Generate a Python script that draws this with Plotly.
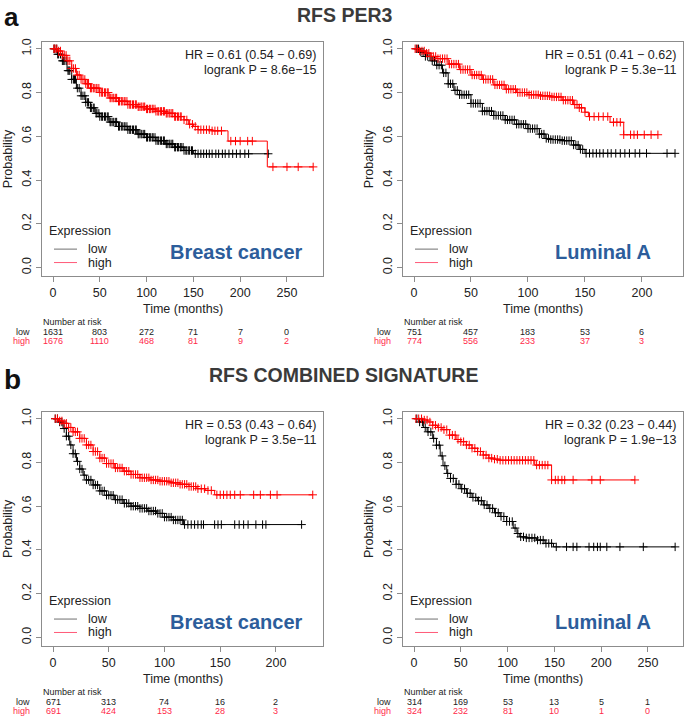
import numpy as np
import plotly.graph_objects as go

W, H = 685, 717

# ---------------- data ----------------
# Panel a-left: RFS PER3, Breast cancer
TL_low_t = [0, 5, 10, 15, 20, 25, 30, 35, 40, 45, 50, 60, 70, 80, 90, 100, 110, 120, 130, 140, 150, 231]
TL_low_s = [1.0, 0.975, 0.945, 0.9, 0.86, 0.82, 0.785, 0.755, 0.73, 0.705, 0.69, 0.665, 0.645, 0.63, 0.61, 0.595, 0.58, 0.565, 0.55, 0.535, 0.52, 0.52]
TL_high_t = [0, 5, 10, 15, 20, 25, 30, 35, 40, 50, 60, 70, 80, 90, 100, 110, 120, 130, 140, 145, 150, 155, 170, 187, 229, 278]
TL_high_s = [1.0, 0.99, 0.97, 0.945, 0.91, 0.88, 0.86, 0.84, 0.82, 0.80, 0.775, 0.76, 0.745, 0.735, 0.725, 0.714, 0.705, 0.69, 0.675, 0.655, 0.645, 0.63, 0.625, 0.578, 0.46, 0.46]
TL_low_c = [1, 2, 4, 5, 6, 8, 10, 11, 12, 14, 16, 17, 18, 20, 22, 23, 24, 26, 28, 30, 32, 34, 35, 37, 38, 40, 41, 43, 44, 46, 47, 49, 50, 52, 53, 55, 56, 58, 59, 61, 62, 64, 65, 67, 68, 70, 71, 73, 74, 76, 77, 79, 80, 82, 83, 85, 86, 88, 89, 91, 92, 94, 95, 97, 98, 100, 101, 103, 104, 106, 107, 109, 110, 112, 113, 115, 116, 118, 119, 121, 122, 124, 125, 127, 128, 130, 131, 133, 134, 136, 137, 139, 140, 142, 143, 145, 146, 148, 149, 152, 155, 158, 161, 164, 167, 170, 174, 177, 181, 184, 188, 192, 196, 200, 205, 209, 230]
TL_high_c = [1, 2, 4, 6, 8, 10, 12, 14, 16, 18, 20, 22, 24, 26, 28, 30, 32, 34, 35, 37, 38, 40, 41, 43, 44, 46, 47, 49, 50, 52, 53, 55, 56, 58, 59, 61, 62, 64, 65, 67, 68, 70, 71, 73, 74, 76, 77, 79, 80, 82, 83, 85, 86, 88, 89, 91, 92, 94, 95, 97, 98, 100, 101, 103, 104, 106, 107, 109, 110, 112, 113, 115, 116, 118, 119, 121, 122, 124, 125, 127, 128, 130, 131, 133, 134, 136, 137, 140, 143, 146, 149, 152, 155, 158, 161, 164, 167, 170, 173, 176, 180, 190, 195, 200, 208, 213, 235, 250, 262, 278]

# Panel a-right: RFS PER3, Luminal A
TR_low_t = [0, 5, 10, 15, 20, 25, 30, 35, 40, 50, 60, 70, 80, 90, 100, 110, 115, 120, 130, 140, 145, 150, 229]
TR_low_s = [1.0, 0.985, 0.965, 0.945, 0.925, 0.89, 0.84, 0.81, 0.79, 0.75, 0.715, 0.695, 0.675, 0.655, 0.635, 0.61, 0.59, 0.585, 0.58, 0.56, 0.54, 0.522, 0.522]
TR_high_t = [0, 5, 10, 15, 20, 30, 40, 50, 60, 70, 80, 90, 100, 110, 120, 130, 140, 145, 150, 153, 172, 184, 214]
TR_high_s = [1.0, 0.99, 0.98, 0.965, 0.955, 0.93, 0.905, 0.88, 0.86, 0.835, 0.815, 0.80, 0.79, 0.785, 0.78, 0.765, 0.745, 0.73, 0.71, 0.69, 0.664, 0.607, 0.607]
TR_low_c = [2, 4, 6, 8, 10, 12, 14, 16, 18, 20, 22, 24, 26, 28, 30, 32, 34, 36, 38, 40, 42, 44, 46, 48, 50, 52, 54, 56, 58, 60, 62, 64, 66, 68, 70, 72, 74, 76, 78, 80, 82, 84, 86, 88, 90, 92, 94, 96, 98, 100, 102, 104, 106, 108, 110, 112, 114, 116, 118, 120, 122, 124, 126, 128, 130, 132, 134, 136, 138, 140, 142, 144, 146, 148, 151, 154, 157, 160, 163, 166, 170, 173, 177, 181, 185, 189, 194, 198, 204, 222, 229]
TR_high_c = [1, 3, 5, 7, 9, 11, 13, 15, 17, 19, 21, 23, 25, 27, 29, 31, 33, 35, 37, 39, 41, 43, 45, 47, 49, 51, 53, 55, 57, 59, 61, 63, 65, 67, 69, 71, 73, 75, 77, 79, 81, 83, 85, 87, 89, 91, 93, 95, 97, 99, 101, 103, 105, 107, 109, 111, 113, 115, 117, 119, 121, 123, 125, 127, 129, 131, 133, 135, 137, 139, 141, 143, 145, 147, 150, 154, 158, 162, 166, 170, 175, 178, 181, 184, 190, 193, 196, 202, 208, 214]

# Panel b-left: RFS combined signature, Breast cancer
BL_low_t = [0, 5, 9, 12, 15, 18, 21, 24, 27, 30, 36, 42, 48, 55, 63, 70, 78, 85, 93, 100, 108, 117, 223]
BL_low_s = [1.0, 0.985, 0.955, 0.92, 0.88, 0.84, 0.805, 0.77, 0.742, 0.72, 0.697, 0.67, 0.65, 0.63, 0.613, 0.60, 0.59, 0.578, 0.567, 0.55, 0.537, 0.516, 0.516]
BL_high_t = [0, 5, 9, 14, 18, 24, 30, 36, 42, 48, 55, 63, 70, 78, 87, 96, 105, 114, 122, 129, 137, 145, 233]
BL_high_s = [1.0, 0.99, 0.979, 0.96, 0.94, 0.91, 0.88, 0.85, 0.82, 0.795, 0.775, 0.76, 0.745, 0.73, 0.72, 0.714, 0.707, 0.70, 0.69, 0.68, 0.672, 0.652, 0.652]
BL_low_c = [2, 4, 6, 8, 10, 12, 14, 16, 18, 20, 22, 24, 26, 28, 30, 32, 34, 36, 38, 40, 42, 44, 46, 48, 50, 52, 54, 56, 58, 60, 62, 64, 66, 68, 70, 72, 74, 76, 78, 80, 82, 84, 86, 88, 90, 92, 94, 96, 98, 100, 102, 104, 106, 108, 110, 112, 114, 116, 118, 121, 124, 127, 130, 133, 135, 145, 148, 151, 163, 167, 171, 175, 182, 188, 191, 223]
BL_high_c = [2, 4, 6, 8, 10, 12, 14, 16, 18, 20, 22, 24, 26, 28, 30, 32, 34, 36, 38, 40, 42, 44, 46, 48, 50, 52, 54, 56, 58, 60, 62, 64, 66, 68, 70, 72, 74, 76, 78, 80, 82, 84, 86, 88, 90, 92, 94, 96, 98, 100, 102, 104, 106, 108, 110, 112, 114, 116, 118, 120, 122, 124, 126, 128, 130, 133, 136, 139, 142, 147, 150, 153, 156, 159, 163, 168, 180, 186, 195, 201, 233]

# Panel b-right: RFS combined signature, Luminal A
BR_low_t = [0, 5, 10, 14, 20, 24, 28, 31, 35, 39, 45, 50, 56, 62, 68, 74, 80, 86, 92, 99, 106, 110, 113, 120, 131, 140, 149, 279]
BR_low_s = [1.0, 0.985, 0.96, 0.94, 0.91, 0.879, 0.83, 0.785, 0.75, 0.727, 0.70, 0.68, 0.659, 0.64, 0.625, 0.606, 0.59, 0.57, 0.553, 0.53, 0.50, 0.475, 0.46, 0.455, 0.445, 0.43, 0.414, 0.414]
BR_high_t = [0, 10, 15, 20, 25, 30, 38, 45, 50, 56, 62, 68, 74, 80, 86, 92, 129, 147, 236]
BR_high_s = [1.0, 0.994, 0.985, 0.97, 0.96, 0.95, 0.925, 0.905, 0.895, 0.88, 0.865, 0.85, 0.834, 0.82, 0.815, 0.81, 0.788, 0.72, 0.72]
BR_low_c = [3, 6, 9, 12, 15, 18, 21, 24, 27, 30, 33, 36, 39, 42, 45, 48, 51, 54, 57, 60, 63, 66, 69, 72, 75, 78, 81, 84, 87, 90, 93, 96, 99, 102, 105, 108, 111, 114, 117, 120, 123, 126, 129, 132, 135, 138, 141, 144, 147, 152, 163, 170, 174, 187, 192, 196, 199, 206, 220, 245, 279]
BR_high_c = [2, 5, 8, 11, 14, 17, 20, 23, 26, 29, 32, 35, 38, 41, 44, 47, 50, 53, 56, 59, 62, 65, 68, 71, 74, 77, 80, 83, 86, 89, 92, 95, 98, 101, 104, 107, 110, 113, 116, 119, 122, 125, 128, 131, 134, 137, 140, 143, 147, 151, 154, 158, 161, 170, 190, 199, 236]

# Numbers at risk
TL_risk_t = [0, 50, 100, 150, 200, 250]
TL_risk_low = [1631, 803, 272, 71, 7, 0]
TL_risk_high = [1676, 1110, 468, 81, 9, 2]
TR_risk_t = [0, 50, 100, 150, 200]
TR_risk_low = [751, 457, 183, 53, 6]
TR_risk_high = [774, 556, 233, 37, 3]
BL_risk_t = [0, 50, 100, 150, 200]
BL_risk_low = [671, 313, 74, 16, 2]
BL_risk_high = [691, 424, 153, 28, 3]
BR_risk_t = [0, 50, 100, 150, 200, 250]
BR_risk_low = [314, 169, 53, 13, 5, 1]
BR_risk_high = [324, 232, 81, 10, 1, 0]

HR_texts = ["HR = 0.61 (0.54 − 0.69)", "HR = 0.51 (0.41 − 0.62)",
            "HR = 0.53 (0.43 − 0.64)", "HR = 0.32 (0.23 − 0.44)"]
P_texts = ["logrank P = 8.6e−15", "logrank P = 5.3e−11",
           "logrank P = 3.5e−11", "logrank P = 1.9e−13"]
subsets = ["Breast cancer", "Luminal A", "Breast cancer", "Luminal A"]
titles = ["RFS PER3", "RFS COMBINED SIGNATURE"]
panel_letters = ["a", "b"]
y_ticks = [0.0, 0.2, 0.4, 0.6, 0.8, 1.0]
y_ticklabels = ["0.0", "0.2", "0.4", "0.6", "0.8", "1.0"]

# ---------------- layout geometry (pixels) ----------------
FONT = "Liberation Sans, Arial, Helvetica, sans-serif"
RED = "#ff0000"
RED_TXT = "#ff2a4a"
BLUE = "#2c5d9b"
TXT = "#222222"
BOXC = "#8c8c8c"


def PX(x):
    return x / W


def PY(y):
    return 1 - y / H


panels = [
    dict(box=(42, 38, 323, 274), xr=(-11.75, 288.5), xt=[0, 50, 100, 150, 200, 250],
         low=(TL_low_t, TL_low_s, TL_low_c), high=(TL_high_t, TL_high_s, TL_high_c),
         risk=(TL_risk_t, TL_risk_low, TL_risk_high)),
    dict(box=(403, 38, 683, 274), xr=(-9.65, 236.0), xt=[0, 50, 100, 150, 200],
         low=(TR_low_t, TR_low_s, TR_low_c), high=(TR_high_t, TR_high_s, TR_high_c),
         risk=(TR_risk_t, TR_risk_low, TR_risk_high)),
    dict(box=(42, 410, 323, 646), xr=(-9.87, 242.2), xt=[0, 50, 100, 150, 200],
         low=(BL_low_t, BL_low_s, BL_low_c), high=(BL_high_t, BL_high_s, BL_high_c),
         risk=(BL_risk_t, BL_risk_low, BL_risk_high)),
    dict(box=(403, 410, 683, 646), xr=(-11.75, 287.4), xt=[0, 50, 100, 150, 200, 250],
         low=(BR_low_t, BR_low_s, BR_low_c), high=(BR_high_t, BR_high_s, BR_high_c),
         risk=(BR_risk_t, BR_risk_low, BR_risk_high)),
]

fig = go.Figure()
annotations = []
shapes = []


def step_value(ts, ss, t):
    i = np.searchsorted(np.asarray(ts), t, side="right") - 1
    return ss[max(i, 0)]


def ann(x, y, text, size=12, color=TXT, xanchor="center", yanchor="middle", bold=False,
        xref="paper", angle=0):
    annotations.append(dict(
        x=x, y=y, xref=xref, yref="paper", text=("<b>%s</b>" % text) if bold else text,
        showarrow=False, xanchor=xanchor, yanchor=yanchor, textangle=angle,
        font=dict(family=FONT, size=size, color=color), borderpad=0))


for i, p in enumerate(panels):
    k = "" if i == 0 else str(i + 1)
    xa, ya = "x" + k, "y" + k
    x0, y0, x1, y1 = p["box"]
    for (ts, ss, cs), col in [(p["low"], "#000000"), (p["high"], RED)]:
        fig.add_trace(go.Scatter(x=ts, y=ss, mode="lines", line=dict(color=col, width=1, shape="hv"),
                                 xaxis=xa, yaxis=ya, showlegend=False, hoverinfo="skip"))
        cy = [step_value(ts, ss, c) for c in cs]
        fig.add_trace(go.Scatter(x=cs, y=cy, mode="markers",
                                 marker=dict(symbol="cross-thin-open", size=6, color=col,
                                             line=dict(color=col, width=1)),
                                 xaxis=xa, yaxis=ya, showlegend=False, hoverinfo="skip"))
    axis_common = dict(showline=True, mirror=True, linecolor=BOXC, linewidth=1, ticks="outside",
                       ticklen=5, tickcolor=BOXC, tickwidth=1, showgrid=False, zeroline=False,
                       tickfont=dict(family=FONT, size=12.5, color=TXT))
    fig.update_layout(**{
        "xaxis" + k: dict(domain=[PX(x0), PX(x1)], range=list(p["xr"]), tickvals=p["xt"],
                          anchor=ya, **axis_common),
        "yaxis" + k: dict(domain=[PY(y1), PY(y0)], range=[-0.041, 1.032], tickvals=y_ticks,
                          ticktext=y_ticklabels, tickangle=-90, anchor=xa, **axis_common),
    })
    # HR text
    ann(PX(x1 - 6.5), PY(y0 + 13.5), HR_texts[i], size=12.5, xanchor="right")
    ann(PX(x1 - 6.5), PY(y0 + 28.5), P_texts[i], size=12.5, xanchor="right")
    # subset label
    ann(PX(x0 + (194 if i % 2 == 0 else 200)), PY(y0 + 211), subsets[i], size=20, color=BLUE, bold=True)
    # legend
    ann(PX(x0 + 6), PY(y0 + 190), "Expression", size=12.5, xanchor="left")
    ann(PX(x0 + 45), PY(y0 + 208.5), "low", size=12.5, xanchor="left")
    ann(PX(x0 + 45), PY(y0 + 222), "high", size=12.5, xanchor="left")
    shapes.append(dict(type="line", xref="paper", yref="paper", x0=PX(x0 + 12), x1=PX(x0 + 35),
                       y0=PY(y0 + 208.5), y1=PY(y0 + 208.5), line=dict(color="#707070", width=1)))
    shapes.append(dict(type="line", xref="paper", yref="paper", x0=PX(x0 + 12), x1=PX(x0 + 35),
                       y0=PY(y0 + 222), y1=PY(y0 + 222), line=dict(color="#ff5a78", width=1)))
    # axis labels
    ann(PX(x0 - 34), PY((y0 + y1) / 2), "Probability", size=12.5, angle=-90)
    ann(PX((x0 + x1) / 2), PY(y1 + 33), "Time (months)", size=12.5)
    # numbers at risk
    rt, rl, rh = p["risk"]
    ann(PX(x0), PY(y1 + 45.5), "Number at risk", size=9, xanchor="left")
    ann(PX(x0 - 11), PY(y1 + 55.5), "low", size=9, xanchor="right")
    ann(PX(x0 - 11), PY(y1 + 65), "high", size=9, xanchor="right", color=RED_TXT)
    for t, lo, hi in zip(rt, rl, rh):
        ann(t, PY(y1 + 55.5), str(lo), size=9, xref=xa)
        ann(t, PY(y1 + 65), str(hi), size=9, xref=xa, color=RED_TXT)

# panel titles and letters
ann(PX(3), PY(13), panel_letters[0], size=26, bold=True, color="#111111", xanchor="left")
ann(PX(3), PY(378), panel_letters[1], size=28, bold=True, color="#111111", xanchor="left")
ann(PX(344.5), PY(11), titles[0], size=19.5, bold=True, color="#3a3a3a")
ann(PX(343.3), PY(373.5), titles[1], size=19.5, bold=True, color="#3a3a3a")

fig.update_layout(width=W, height=H, margin=dict(l=0, r=0, t=0, b=0),
                  paper_bgcolor="white", plot_bgcolor="white", showlegend=False,
                  annotations=annotations, shapes=shapes)

fig.write_html("out.html", config={"displayModeBar": False},
               post_script="document.body.style.margin='0';document.body.style.padding='0';"
                           "document.documentElement.style.overflow='hidden';")
